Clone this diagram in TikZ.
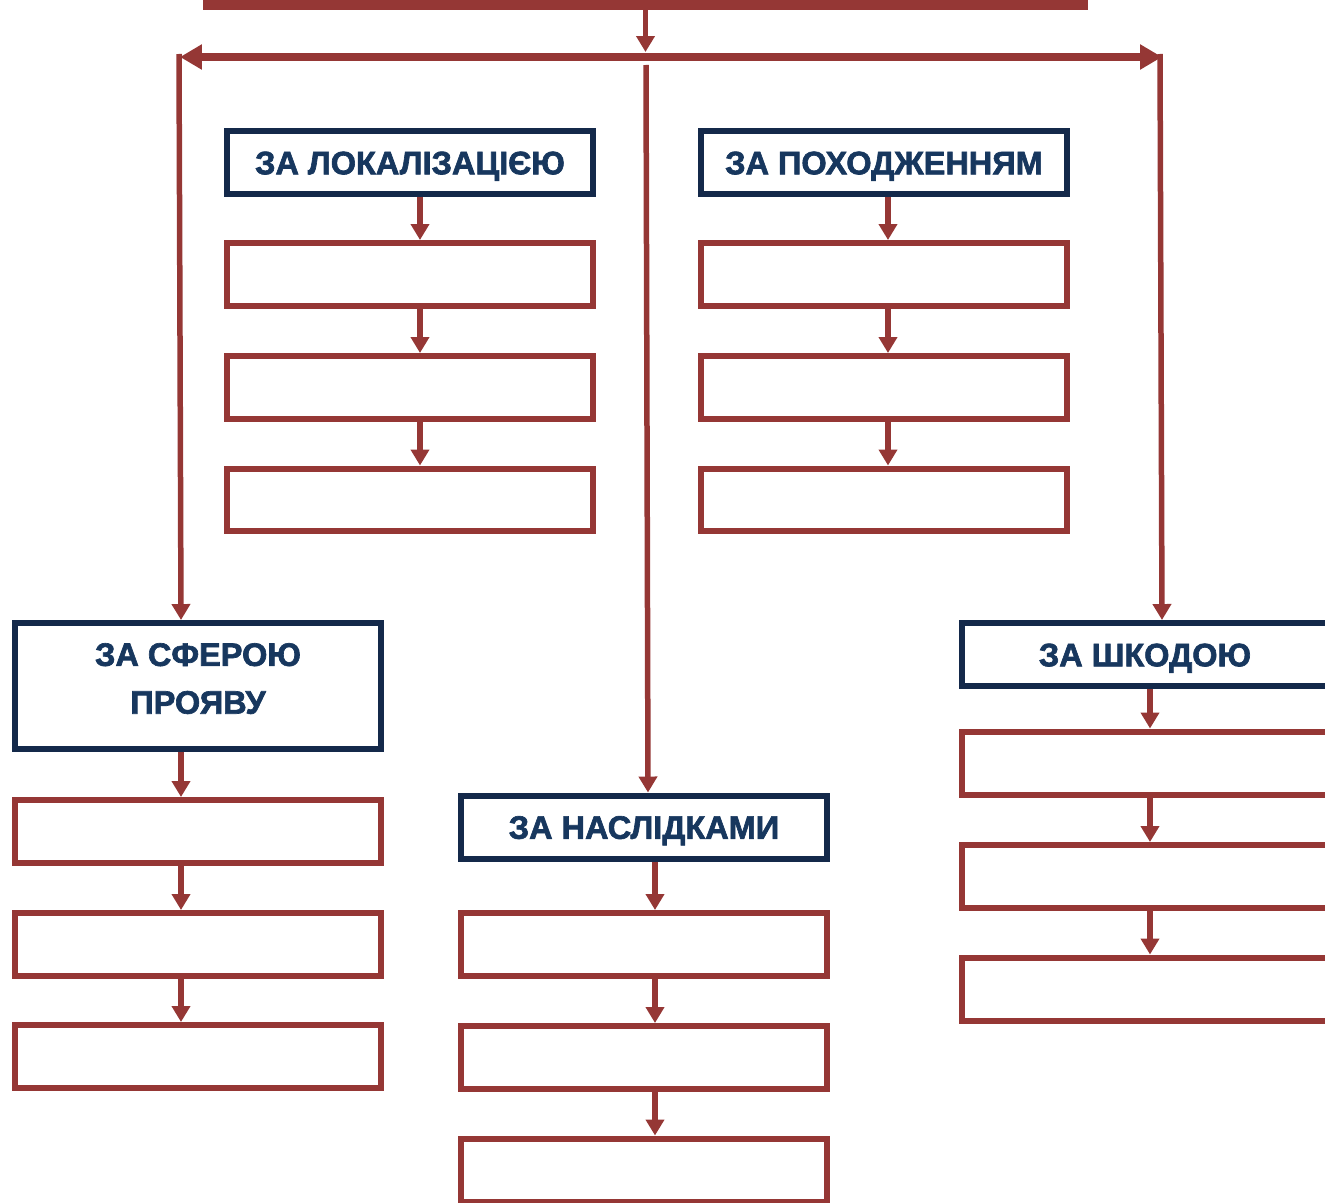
\documentclass[tikz,border=0pt]{standalone}
\usepackage{fontspec}
\setmainfont{Liberation Sans}[BoldFeatures={FakeBold=2}]
\usetikzlibrary{arrows.meta}
\definecolor{darkred}{HTML}{953735}
\definecolor{navy}{HTML}{17375E}
\definecolor{navyline}{HTML}{14294A}

\begin{document}
\begin{tikzpicture}[x=0.02cm,y=-0.02cm,
    headbox/.style={draw=navyline,line width=0.12cm,minimum width=7.32cm,minimum height=1.26cm,
      inner sep=0pt,align=center,text=navy,text height=13.4pt,text depth=0pt,
      font=\bfseries\fontsize{18.5}{27.2}\selectfont},
    itembox/.style={draw=darkred,line width=0.12cm,minimum width=7.32cm,minimum height=1.26cm},
    link/.style={draw=darkred,line width=0.11cm,-{Triangle[length=0.32cm,width=0.36cm]}}]
    \useasboundingbox (0,0) rectangle (1325,1203);
    \clip (0,0) rectangle (1325,1203);

    % top box and the distribution line
    \node[draw=darkred,line width=0.2cm,minimum width=17.5cm,minimum height=2cm] (top) at (645.5,-45) {};
    \coordinate (hub) at (645.5,52);
    \coordinate (hl) at (180,57);
    \coordinate (hr) at (1162,57);
    \draw[link] (top.south) -- (hub);
    \draw[darkred,line width=0.15cm,{Triangle[length=0.44cm,width=0.48cm]}-{Triangle[length=0.44cm,width=0.48cm]}] (hl) -- (hr);

    % za lokalizatsiieiu
    \node[headbox] (loc) at (410,162.5) {ЗА ЛОКАЛІЗАЦІЄЮ};
    \node[itembox] (loc1) at (410,274.5) {};
    \node[itembox] (loc2) at (410,387.5) {};
    \node[itembox] (loc3) at (410,500) {};
    \draw[link] ([xshift=0.2cm]loc.south) -- ([xshift=0.2cm]loc1.north);
    \draw[link] ([xshift=0.2cm]loc1.south) -- ([xshift=0.2cm]loc2.north);
    \draw[link] ([xshift=0.2cm]loc2.south) -- ([xshift=0.2cm]loc3.north);

    % za pokhodzhenniam
    \node[headbox] (pokh) at (884,162.5) {ЗА ПОХОДЖЕННЯМ};
    \node[itembox] (pokh1) at (884,274.5) {};
    \node[itembox] (pokh2) at (884,387.5) {};
    \node[itembox] (pokh3) at (884,500) {};
    \draw[link] ([xshift=0.08cm]pokh.south) -- ([xshift=0.08cm]pokh1.north);
    \draw[link] ([xshift=0.08cm]pokh1.south) -- ([xshift=0.08cm]pokh2.north);
    \draw[link] ([xshift=0.08cm]pokh2.south) -- ([xshift=0.08cm]pokh3.north);

    % za sferoiu proiavu
    \node[headbox,minimum height=2.52cm,text height=45pt,text depth=13.5pt] (sfera) at (198,686) {ЗА СФЕРОЮ\\ПРОЯВУ};
    \node[itembox] (sfera1) at (198,831.5) {};
    \node[itembox] (sfera2) at (198,944.5) {};
    \node[itembox] (sfera3) at (198,1056.5) {};
    \coordinate (cl) at (179,54);
    \draw[link] (cl) -- ([xshift=-0.34cm]sfera.north);
    \draw[link] ([xshift=-0.34cm]sfera.south) -- ([xshift=-0.34cm]sfera1.north);
    \draw[link] ([xshift=-0.34cm]sfera1.south) -- ([xshift=-0.34cm]sfera2.north);
    \draw[link] ([xshift=-0.34cm]sfera2.south) -- ([xshift=-0.34cm]sfera3.north);

    % za naslidkamy
    \node[headbox] (nasl) at (644,827) {ЗА НАСЛІДКАМИ};
    \node[itembox] (nasl1) at (644,944.5) {};
    \node[itembox] (nasl2) at (644,1057.5) {};
    \node[itembox] (nasl3) at (644,1170) {};
    \coordinate (cm) at (646,65);
    \draw[link] (cm) -- ([xshift=0.08cm]nasl.north);
    \draw[link] ([xshift=0.22cm]nasl.south) -- ([xshift=0.22cm]nasl1.north);
    \draw[link] ([xshift=0.22cm]nasl1.south) -- ([xshift=0.22cm]nasl2.north);
    \draw[link] ([xshift=0.22cm]nasl2.south) -- ([xshift=0.22cm]nasl3.north);

    % za shkodoiu
    \node[headbox] (shk) at (1145,654.5) {ЗА ШКОДОЮ};
    \node[itembox] (shk1) at (1145,763) {};
    \node[itembox] (shk2) at (1145,876.5) {};
    \node[itembox] (shk3) at (1145,989) {};
    \coordinate (cr) at (1160,54);
    \draw[link] (cr) -- ([xshift=0.34cm]shk.north);
    \draw[link] ([xshift=0.1cm]shk.south) -- ([xshift=0.1cm]shk1.north);
    \draw[link] ([xshift=0.1cm]shk1.south) -- ([xshift=0.1cm]shk2.north);
    \draw[link] ([xshift=0.1cm]shk2.south) -- ([xshift=0.1cm]shk3.north);
\end{tikzpicture}
\end{document}
